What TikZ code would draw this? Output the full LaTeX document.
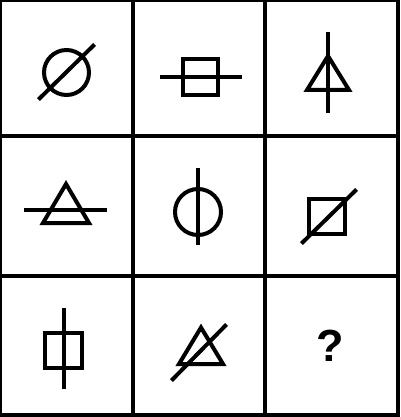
\documentclass[tikz,border=0pt]{standalone}
\usepackage{fontspec}
\setmainfont{Liberation Sans}
\begin{document}
\begin{tikzpicture}[x=1pt,y=-1pt,
  sym/.style={line width=4pt, black},
  gridline/.style={line width=4pt, black},
  qmark/.style={font=\bfseries\fontsize{45}{45}\selectfont, inner sep=0pt}]
\useasboundingbox (0,0) rectangle (400,417);
\fill[white] (0,0) rectangle (400,417);
\begin{scope}
  \clip (0,0) rectangle (400,417);
  \draw[gridline] (0,0) rectangle (397.5,414.5);
  \foreach \x in {132.5,265} \draw[gridline] (\x,0) -- (\x,417);
  \foreach \y in {136.3,276.2} \draw[gridline] (0,\y) -- (400,\y);
\end{scope}
% cell 1: circle with diagonal
\draw[sym] (66.5,72.5) circle (22.5);
\draw[sym] (38.4,99.6) -- (94.6,44.4);
% cell 2: rectangle with horizontal line
\draw[sym] (183,59) rectangle (218,95);
\draw[sym] (160,77) -- (242,77);
% cell 3: triangle with vertical line
\draw[sym] (328,56) -- (349,90) -- (307,90) -- cycle;
\draw[sym] (328,32) -- (328,113);
% cell 4: triangle with horizontal line
\draw[sym] (66,184) -- (89,223) -- (43,223) -- cycle;
\draw[sym] (24,210) -- (107,210);
% cell 5: circle with vertical line
\draw[sym] (198,212) circle (23);
\draw[sym] (198,168) -- (198,245);
% cell 6: square with diagonal
\draw[sym] (309,199) rectangle (345,234);
\draw[sym] (301.4,243.6) -- (356.6,189.4);
% cell 7: rectangle with vertical line
\draw[sym] (45,333) rectangle (82,368);
\draw[sym] (63.5,308) -- (63.5,389);
% cell 8: triangle with diagonal
\draw[sym] (201,327.5) -- (223,364) -- (179,364) -- cycle;
\draw[sym] (171.4,380.6) -- (226.6,324.4);
% cell 9
\node[qmark] (q) at (330,345.5) {?};
\end{tikzpicture}
\end{document}
